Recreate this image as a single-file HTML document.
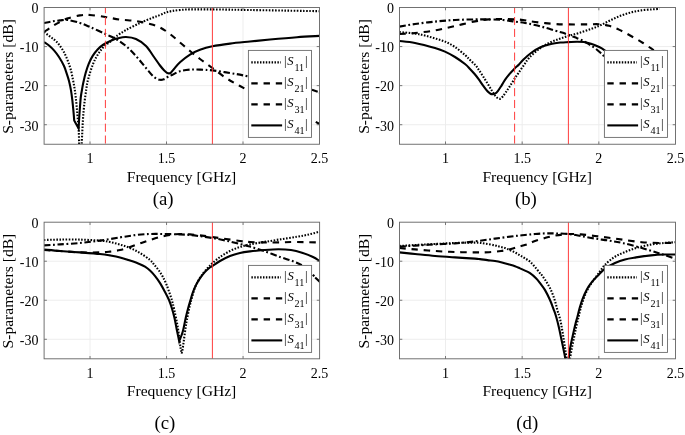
<!DOCTYPE html>
<html><head><meta charset="utf-8"><title>S-parameters</title>
<style>
html,body{margin:0;padding:0;background:#fff}
svg{display:block;will-change:transform}
text{font-family:"Liberation Serif","Times New Roman",serif;fill:#000}
</style></head><body>
<svg width="685" height="435" viewBox="0 0 685 435">
<rect width="685" height="435" fill="#fff"/>
<g id="plot-a">
<clipPath id="clip-a"><rect x="44.10" y="7.50" width="275.40" height="136.75"/></clipPath>
<path d="M90.00,7.50 V144.25 M166.50,7.50 V144.25 M243.00,7.50 V144.25 M44.10,46.57 H319.50 M44.10,85.64 H319.50 M44.10,124.71 H319.50" stroke="#ebebeb" stroke-width="0.9" fill="none"/>
<g clip-path="url(#clip-a)" fill="none" stroke="#000" stroke-width="2.1" stroke-linejoin="miter">
<path d="M44.00,32.00 C45.33,31.08 49.33,28.17 52.00,26.50 C54.67,24.83 57.33,23.37 60.00,22.00 C62.67,20.63 64.67,19.40 68.00,18.30 C71.33,17.20 76.33,15.95 80.00,15.40 C83.67,14.85 85.77,14.73 90.00,15.00 C94.23,15.27 100.40,16.23 105.40,17.00 C110.40,17.77 114.90,18.93 120.00,19.60 C125.10,20.27 131.00,20.27 136.00,21.00 C141.00,21.73 146.00,22.92 150.00,24.00 C154.00,25.08 156.67,25.83 160.00,27.50 C163.33,29.17 166.67,31.50 170.00,34.00 C173.33,36.50 176.67,39.67 180.00,42.50 C183.33,45.33 186.67,48.25 190.00,51.00 C193.33,53.75 196.27,56.17 200.00,59.00 C203.73,61.83 208.07,64.83 212.40,68.00 C216.73,71.17 221.40,75.00 226.00,78.00 C230.60,81.00 234.33,82.83 240.00,86.00 C245.67,89.17 253.33,93.50 260.00,97.00 C266.67,100.50 273.33,103.83 280.00,107.00 C286.67,110.17 296.67,114.50 300.00,116.00" stroke-dasharray="6.4 5.8"/>
<path d="M44.00,23.00 C45.33,22.73 49.33,21.83 52.00,21.40 C54.67,20.97 57.33,20.63 60.00,20.40 C62.67,20.17 64.67,19.57 68.00,20.00 C71.33,20.43 76.33,21.83 80.00,23.00 C83.67,24.17 85.77,25.17 90.00,27.00 C94.23,28.83 101.07,32.00 105.40,34.00 C109.73,36.00 112.57,37.00 116.00,39.00 C119.43,41.00 122.67,43.17 126.00,46.00 C129.33,48.83 132.67,52.33 136.00,56.00 C139.33,59.67 143.00,64.50 146.00,68.00 C149.00,71.50 151.67,75.03 154.00,77.00 C156.33,78.97 158.33,79.43 160.00,79.80 C161.67,80.17 162.67,79.70 164.00,79.20 C165.33,78.70 166.67,77.50 168.00,76.80 C169.33,76.10 170.00,75.93 172.00,75.00 C174.00,74.07 177.00,72.10 180.00,71.20 C183.00,70.30 186.67,69.87 190.00,69.60 C193.33,69.33 196.27,69.47 200.00,69.60 C203.73,69.73 207.40,69.83 212.40,70.40 C217.40,70.97 224.07,72.00 230.00,73.00 C235.93,74.00 239.67,74.57 248.00,76.40 C256.33,78.23 271.33,81.98 280.00,84.00 C288.67,86.02 296.67,87.75 300.00,88.50" stroke-dasharray="6.5 2.6 1.8 2.6"/>
<path d="M44.00,32.00 C44.67,32.50 46.67,34.00 48.00,35.00 C49.33,36.00 50.83,37.13 52.00,38.00 C53.17,38.87 53.83,39.12 55.00,40.20 C56.17,41.28 57.52,42.53 59.00,44.50 C60.48,46.47 62.43,49.27 63.90,52.00 C65.37,54.73 66.65,57.93 67.80,60.90 C68.95,63.87 69.92,66.53 70.80,69.80 C71.68,73.07 72.43,77.15 73.10,80.50 C73.77,83.85 74.32,86.67 74.80,89.90 C75.28,93.13 75.63,96.55 76.00,99.90 C76.37,103.25 76.68,106.57 77.00,110.00 C77.32,113.43 77.60,116.85 77.90,120.50 C78.20,124.15 78.60,128.12 78.80,131.90 C79.00,135.68 79.03,140.52 79.10,143.20 C79.17,145.88 79.18,147.20 79.20,148.00 L81.60,148.00 C81.62,147.20 81.58,145.88 81.70,143.20 C81.82,140.52 82.10,135.68 82.30,131.90 C82.50,128.12 82.67,124.15 82.90,120.50 C83.13,116.85 83.38,113.43 83.70,110.00 C84.02,106.57 84.38,103.25 84.80,99.90 C85.22,96.55 85.77,92.83 86.20,89.90 C86.63,86.97 86.82,84.98 87.40,82.30 C87.98,79.62 88.82,76.72 89.70,73.80 C90.58,70.88 91.72,67.37 92.70,64.80 C93.68,62.23 94.45,60.55 95.60,58.40 C96.75,56.25 98.10,53.97 99.60,51.90 C101.10,49.83 102.53,47.95 104.60,46.00 C106.67,44.05 110.10,41.78 112.00,40.20 C113.90,38.62 113.67,38.20 116.00,36.50 C118.33,34.80 122.00,32.25 126.00,30.00 C130.00,27.75 135.67,25.00 140.00,23.00 C144.33,21.00 148.67,19.33 152.00,18.00 C155.33,16.67 157.67,15.93 160.00,15.00 C162.33,14.07 164.00,13.07 166.00,12.40 C168.00,11.73 169.67,11.40 172.00,11.00 C174.33,10.60 177.00,10.27 180.00,10.00 C183.00,9.73 184.67,9.50 190.00,9.40 C195.33,9.30 202.00,9.30 212.00,9.40 C222.00,9.50 235.83,9.77 250.00,10.00 C264.17,10.23 285.40,10.60 297.00,10.80 C308.60,11.00 315.83,11.13 319.60,11.20" stroke-dasharray="1.55 1.55"/>
<path d="M44.00,42.00 C44.83,42.58 47.33,44.10 49.00,45.50 C50.67,46.90 52.33,48.48 54.00,50.40 C55.67,52.32 57.35,54.43 59.00,57.00 C60.65,59.57 62.60,63.00 63.90,65.80 C65.20,68.60 65.95,71.27 66.80,73.80 C67.65,76.33 68.32,78.32 69.00,81.00 C69.68,83.68 70.35,86.75 70.90,89.90 C71.45,93.05 71.85,96.08 72.30,99.90 C72.75,103.72 73.28,109.37 73.60,112.80 C73.92,116.23 74.10,119.22 74.20,120.50 L74.20,120.50 C74.93,121.82 77.87,127.08 78.60,128.40 L78.60,128.40 C78.70,126.67 78.98,121.40 79.20,118.00 C79.42,114.60 79.63,111.50 79.90,108.00 C80.17,104.50 80.40,100.33 80.80,97.00 C81.20,93.67 81.87,90.45 82.30,88.00 C82.73,85.55 82.83,84.83 83.40,82.30 C83.97,79.77 84.82,75.88 85.70,72.80 C86.58,69.72 87.53,66.62 88.70,63.80 C89.87,60.98 91.22,58.30 92.70,55.90 C94.18,53.50 95.78,51.30 97.60,49.40 C99.42,47.50 101.20,46.03 103.60,44.50 C106.00,42.97 109.60,41.25 112.00,40.20 C114.40,39.15 115.67,38.73 118.00,38.20 C120.33,37.67 123.00,36.87 126.00,37.00 C129.00,37.13 132.67,37.50 136.00,39.00 C139.33,40.50 143.00,43.00 146.00,46.00 C149.00,49.00 151.67,53.75 154.00,57.00 C156.33,60.25 158.33,63.30 160.00,65.50 C161.67,67.70 162.83,68.98 164.00,70.20 C165.17,71.42 166.17,72.27 167.00,72.80 C167.83,73.33 168.33,73.43 169.00,73.40 C169.67,73.37 170.17,73.33 171.00,72.60 C171.83,71.87 172.50,70.72 174.00,69.00 C175.50,67.28 177.33,64.70 180.00,62.30 C182.67,59.90 186.67,56.68 190.00,54.60 C193.33,52.52 196.27,51.18 200.00,49.80 C203.73,48.42 207.40,47.33 212.40,46.30 C217.40,45.27 223.73,44.40 230.00,43.60 C236.27,42.80 243.33,42.18 250.00,41.50 C256.67,40.82 262.17,40.22 270.00,39.50 C277.83,38.78 288.73,37.80 297.00,37.20 C305.27,36.60 315.83,36.12 319.60,35.90" />
<path d="M315.8,121.8 L320.6,124.7"/>
<path d="M312,89.7 L317.7,91.7"/>
<path d="M319.0,92.25 L320.8,92.9"/>
<path d="M105.40,5.15 V144.25" stroke="#f33" stroke-width="0.95" stroke-dasharray="8.1 3.75"/>
<path d="M212.40,7.50 V144.25" stroke="#f33" stroke-width="0.95"/>
</g>
<rect x="248.40" y="50.40" width="63.10" height="87.00" fill="#fff" stroke="#6a6a6a" stroke-width="0.9"/>
<path d="M90.00,144.25 v-2.8 M90.00,7.50 v2.8 M166.50,144.25 v-2.8 M166.50,7.50 v2.8 M243.00,144.25 v-2.8 M243.00,7.50 v2.8 M44.10,46.57 h2.8 M319.50,46.57 h-2.8 M44.10,85.64 h2.8 M319.50,85.64 h-2.8 M44.10,124.71 h2.8 M319.50,124.71 h-2.8" stroke="#6a6a6a" stroke-width="0.9" fill="none"/>
<rect x="44.10" y="7.50" width="275.40" height="136.75" fill="none" stroke="#6a6a6a" stroke-width="0.95"/>
<path d="M251.30,62.40 H280.90" stroke="#000" stroke-width="2.1" stroke-dasharray="1.45 1.45"/>
<text x="284.00" y="65.40" font-size="12.6">|<tspan x="287.30" font-style="italic">S</tspan><tspan x="294.40" dy="5.5" font-size="10.1">11</tspan><tspan x="305.00" dy="-5.5" font-size="12.6">|</tspan></text>
<path d="M251.30,83.40 H282.10" stroke="#000" stroke-width="2.1" stroke-dasharray="6.4 5.85"/>
<text x="284.00" y="86.40" font-size="12.6">|<tspan x="287.30" font-style="italic">S</tspan><tspan x="294.40" dy="5.5" font-size="10.1">21</tspan><tspan x="305.00" dy="-5.5" font-size="12.6">|</tspan></text>
<path d="M251.30,104.40 H282.10" stroke="#000" stroke-width="2.1" stroke-dasharray="6.4 5.85"/>
<text x="284.00" y="107.40" font-size="12.6">|<tspan x="287.30" font-style="italic">S</tspan><tspan x="294.40" dy="5.5" font-size="10.1">31</tspan><tspan x="305.00" dy="-5.5" font-size="12.6">|</tspan></text>
<path d="M251.30,125.40 H282.10" stroke="#000" stroke-width="2.1"/>
<text x="284.00" y="128.40" font-size="12.6">|<tspan x="287.30" font-style="italic">S</tspan><tspan x="294.40" dy="5.5" font-size="10.1">41</tspan><tspan x="305.00" dy="-5.5" font-size="12.6">|</tspan></text>
<text x="90.00" y="163.05" font-size="14" text-anchor="middle">1</text>
<text x="166.50" y="163.05" font-size="14" text-anchor="middle">1.5</text>
<text x="243.00" y="163.05" font-size="14" text-anchor="middle">2</text>
<text x="319.50" y="163.05" font-size="14" text-anchor="middle">2.5</text>
<text x="38.50" y="13.30" font-size="14" text-anchor="end">0</text>
<text x="38.50" y="52.37" font-size="14" text-anchor="end">-10</text>
<text x="38.50" y="91.44" font-size="14" text-anchor="end">-20</text>
<text x="38.50" y="130.51" font-size="14" text-anchor="end">-30</text>
<text x="181.50" y="181.55" font-size="15.6" text-anchor="middle">Frequency [GHz]</text>
<text transform="translate(13.20,76.47) rotate(-90)" font-size="15.6" text-anchor="middle">S-parameters [dB]</text>
<text x="163.10" y="205.40" font-size="18.8" text-anchor="middle">(a)</text>
</g>
<g id="plot-b">
<clipPath id="clip-b"><rect x="399.50" y="7.50" width="276.00" height="136.75"/></clipPath>
<path d="M445.50,7.50 V144.25 M522.17,7.50 V144.25 M598.83,7.50 V144.25 M399.50,46.57 H675.50 M399.50,85.64 H675.50 M399.50,124.71 H675.50" stroke="#ebebeb" stroke-width="0.9" fill="none"/>
<g clip-path="url(#clip-b)" fill="none" stroke="#000" stroke-width="2.1" stroke-linejoin="miter">
<path d="M399.40,34.00 C402.00,33.83 409.07,33.60 415.00,33.00 C420.93,32.40 428.33,31.57 435.00,30.40 C441.67,29.23 448.33,27.50 455.00,26.00 C461.67,24.50 469.33,22.50 475.00,21.40 C480.67,20.30 484.33,19.80 489.00,19.40 C493.67,19.00 498.67,19.00 503.00,19.00 C507.33,19.00 511.67,19.23 515.00,19.40 C518.33,19.57 519.67,19.57 523.00,20.00 C526.33,20.43 529.67,21.33 535.00,22.00 C540.33,22.67 549.43,23.60 555.00,24.00 C560.57,24.40 563.40,24.33 568.40,24.40 C573.40,24.47 579.90,24.43 585.00,24.40 C590.10,24.37 595.00,23.97 599.00,24.20 C603.00,24.43 605.67,24.90 609.00,25.80 C612.33,26.70 615.33,27.90 619.00,29.60 C622.67,31.30 627.00,33.77 631.00,36.00 C635.00,38.23 639.50,40.83 643.00,43.00 C646.50,45.17 649.25,47.08 652.00,49.00 C654.75,50.92 658.25,53.58 659.50,54.50" stroke-dasharray="6.4 5.8"/>
<path d="M399.40,26.60 C402.00,26.17 409.07,24.83 415.00,24.00 C420.93,23.17 428.33,22.27 435.00,21.60 C441.67,20.93 448.33,20.37 455.00,20.00 C461.67,19.63 469.33,19.50 475.00,19.40 C480.67,19.30 484.33,19.30 489.00,19.40 C493.67,19.50 498.67,19.63 503.00,20.00 C507.33,20.37 511.33,21.10 515.00,21.60 C518.67,22.10 521.67,22.43 525.00,23.00 C528.33,23.57 531.67,24.23 535.00,25.00 C538.33,25.77 541.67,26.67 545.00,27.60 C548.33,28.53 552.17,29.77 555.00,30.60 C557.83,31.43 559.77,31.90 562.00,32.60 C564.23,33.30 566.57,34.13 568.40,34.80 C570.23,35.47 571.57,36.03 573.00,36.60 C574.43,37.17 575.50,37.58 577.00,38.20 C578.50,38.82 580.50,39.58 582.00,40.30 C583.50,41.02 584.62,41.70 586.00,42.50 C587.38,43.30 588.65,44.03 590.30,45.10 C591.95,46.17 594.15,47.57 595.90,48.90 C597.65,50.23 599.40,51.82 600.80,53.10 C602.20,54.38 601.10,53.45 604.30,56.60 C607.50,59.75 614.05,65.60 620.00,72.00 C625.95,78.40 633.42,87.00 640.00,95.00 C646.58,103.00 656.25,115.83 659.50,120.00" stroke-dasharray="6.5 2.6 1.8 2.6"/>
<path d="M399.40,32.00 C402.00,32.27 410.73,33.00 415.00,33.60 C419.27,34.20 421.67,34.80 425.00,35.60 C428.33,36.40 431.67,37.40 435.00,38.40 C438.33,39.40 441.67,40.17 445.00,41.60 C448.33,43.03 451.67,44.77 455.00,47.00 C458.33,49.23 462.50,52.83 465.00,55.00 C467.50,57.17 468.28,58.33 470.00,60.00 C471.72,61.67 473.83,63.37 475.30,65.00 C476.77,66.63 477.50,67.90 478.80,69.80 C480.10,71.70 481.65,74.13 483.10,76.40 C484.55,78.67 486.03,81.00 487.50,83.40 C488.97,85.80 490.58,88.68 491.90,90.80 C493.22,92.92 494.38,94.85 495.40,96.10 C496.42,97.35 497.20,97.87 498.00,98.30 C498.80,98.73 499.40,99.00 500.20,98.70 C501.00,98.40 501.85,97.60 502.80,96.50 C503.75,95.40 504.80,93.70 505.90,92.10 C507.00,90.50 508.08,88.93 509.40,86.90 C510.72,84.87 512.33,82.17 513.80,79.90 C515.27,77.63 516.60,75.63 518.20,73.30 C519.80,70.97 521.60,68.45 523.40,65.90 C525.20,63.35 526.40,60.82 529.00,58.00 C531.60,55.18 535.67,51.50 539.00,49.00 C542.33,46.50 545.67,44.67 549.00,43.00 C552.33,41.33 555.77,40.17 559.00,39.00 C562.23,37.83 565.07,37.00 568.40,36.00 C571.73,35.00 575.23,34.17 579.00,33.00 C582.77,31.83 587.33,30.33 591.00,29.00 C594.67,27.67 597.67,26.50 601.00,25.00 C604.33,23.50 607.67,21.57 611.00,20.00 C614.33,18.43 617.67,16.87 621.00,15.60 C624.33,14.33 627.67,13.27 631.00,12.40 C634.33,11.53 637.50,10.90 641.00,10.40 C644.50,9.90 648.92,9.63 652.00,9.40 C655.08,9.17 658.25,9.07 659.50,9.00" stroke-dasharray="1.55 1.55"/>
<path d="M399.40,41.00 C402.00,41.33 409.07,41.83 415.00,43.00 C420.93,44.17 430.00,46.57 435.00,48.00 C440.00,49.43 441.67,50.10 445.00,51.60 C448.33,53.10 451.67,54.93 455.00,57.00 C458.33,59.07 462.50,62.02 465.00,64.00 C467.50,65.98 468.43,67.27 470.00,68.90 C471.57,70.53 472.93,72.05 474.40,73.80 C475.87,75.55 477.35,77.43 478.80,79.40 C480.25,81.37 481.65,83.62 483.10,85.60 C484.55,87.58 486.33,89.98 487.50,91.30 C488.67,92.62 489.30,93.00 490.10,93.50 C490.90,94.00 491.48,94.27 492.30,94.30 C493.12,94.33 494.05,94.28 495.00,93.70 C495.95,93.12 496.92,92.15 498.00,90.80 C499.08,89.45 500.33,87.42 501.50,85.60 C502.67,83.78 503.68,81.80 505.00,79.90 C506.32,78.00 507.87,76.03 509.40,74.20 C510.93,72.37 512.60,70.52 514.20,68.90 C515.80,67.28 517.53,65.98 519.00,64.50 C520.47,63.02 521.00,61.92 523.00,60.00 C525.00,58.08 528.00,55.17 531.00,53.00 C534.00,50.83 537.67,48.52 541.00,47.00 C544.33,45.48 547.67,44.65 551.00,43.90 C554.33,43.15 558.10,42.80 561.00,42.50 C563.90,42.20 565.73,42.23 568.40,42.10 C571.07,41.97 574.40,41.71 577.00,41.70 C579.60,41.69 581.67,41.72 584.00,42.05 C586.33,42.38 588.67,42.96 591.00,43.70 C593.33,44.44 595.72,45.40 598.00,46.50 C600.28,47.60 601.03,47.72 604.70,50.30 C608.37,52.88 614.12,56.22 620.00,62.00 C625.88,67.78 633.42,77.00 640.00,85.00 C646.58,93.00 656.25,105.83 659.50,110.00" />
<path d="M514.60,5.15 V144.25" stroke="#f33" stroke-width="0.95" stroke-dasharray="8.1 3.75"/>
<path d="M568.40,7.50 V144.25" stroke="#f33" stroke-width="0.95"/>
</g>
<rect x="604.40" y="50.40" width="63.10" height="87.00" fill="#fff" stroke="#6a6a6a" stroke-width="0.9"/>
<path d="M445.50,144.25 v-2.8 M445.50,7.50 v2.8 M522.17,144.25 v-2.8 M522.17,7.50 v2.8 M598.83,144.25 v-2.8 M598.83,7.50 v2.8 M399.50,46.57 h2.8 M675.50,46.57 h-2.8 M399.50,85.64 h2.8 M675.50,85.64 h-2.8 M399.50,124.71 h2.8 M675.50,124.71 h-2.8" stroke="#6a6a6a" stroke-width="0.9" fill="none"/>
<rect x="399.50" y="7.50" width="276.00" height="136.75" fill="none" stroke="#6a6a6a" stroke-width="0.95"/>
<path d="M607.30,62.40 H636.90" stroke="#000" stroke-width="2.1" stroke-dasharray="1.45 1.45"/>
<text x="640.00" y="65.40" font-size="12.6">|<tspan x="643.30" font-style="italic">S</tspan><tspan x="650.40" dy="5.5" font-size="10.1">11</tspan><tspan x="661.00" dy="-5.5" font-size="12.6">|</tspan></text>
<path d="M607.30,83.40 H638.10" stroke="#000" stroke-width="2.1" stroke-dasharray="6.4 5.85"/>
<text x="640.00" y="86.40" font-size="12.6">|<tspan x="643.30" font-style="italic">S</tspan><tspan x="650.40" dy="5.5" font-size="10.1">21</tspan><tspan x="661.00" dy="-5.5" font-size="12.6">|</tspan></text>
<path d="M607.30,104.40 H638.10" stroke="#000" stroke-width="2.1" stroke-dasharray="6.4 5.85"/>
<text x="640.00" y="107.40" font-size="12.6">|<tspan x="643.30" font-style="italic">S</tspan><tspan x="650.40" dy="5.5" font-size="10.1">31</tspan><tspan x="661.00" dy="-5.5" font-size="12.6">|</tspan></text>
<path d="M607.30,125.40 H638.10" stroke="#000" stroke-width="2.1"/>
<text x="640.00" y="128.40" font-size="12.6">|<tspan x="643.30" font-style="italic">S</tspan><tspan x="650.40" dy="5.5" font-size="10.1">41</tspan><tspan x="661.00" dy="-5.5" font-size="12.6">|</tspan></text>
<text x="445.50" y="163.05" font-size="14" text-anchor="middle">1</text>
<text x="522.17" y="163.05" font-size="14" text-anchor="middle">1.5</text>
<text x="598.83" y="163.05" font-size="14" text-anchor="middle">2</text>
<text x="675.50" y="163.05" font-size="14" text-anchor="middle">2.5</text>
<text x="393.90" y="13.30" font-size="14" text-anchor="end">0</text>
<text x="393.90" y="52.37" font-size="14" text-anchor="end">-10</text>
<text x="393.90" y="91.44" font-size="14" text-anchor="end">-20</text>
<text x="393.90" y="130.51" font-size="14" text-anchor="end">-30</text>
<text x="537.20" y="181.55" font-size="15.6" text-anchor="middle">Frequency [GHz]</text>
<text transform="translate(368.60,76.47) rotate(-90)" font-size="15.6" text-anchor="middle">S-parameters [dB]</text>
<text x="525.90" y="205.40" font-size="18.8" text-anchor="middle">(b)</text>
</g>
<g id="plot-c">
<clipPath id="clip-c"><rect x="44.10" y="222.20" width="275.50" height="136.60"/></clipPath>
<path d="M90.02,222.20 V358.80 M166.54,222.20 V358.80 M243.07,222.20 V358.80 M44.10,261.23 H319.60 M44.10,300.26 H319.60 M44.10,339.29 H319.60" stroke="#ebebeb" stroke-width="0.9" fill="none"/>
<g clip-path="url(#clip-c)" fill="none" stroke="#000" stroke-width="2.1" stroke-linejoin="miter">
<path d="M44.00,250.00 C46.67,250.17 54.00,250.60 60.00,251.00 C66.00,251.40 73.33,252.17 80.00,252.40 C86.67,252.63 95.00,252.53 100.00,252.40 C105.00,252.27 106.67,252.00 110.00,251.60 C113.33,251.20 116.67,250.77 120.00,250.00 C123.33,249.23 126.67,248.10 130.00,247.00 C133.33,245.90 136.67,244.57 140.00,243.40 C143.33,242.23 146.67,241.07 150.00,240.00 C153.33,238.93 156.67,237.83 160.00,237.00 C163.33,236.17 166.67,235.50 170.00,235.00 C173.33,234.50 176.67,234.10 180.00,234.00 C183.33,233.90 186.67,234.17 190.00,234.40 C193.33,234.63 196.27,234.97 200.00,235.40 C203.73,235.83 208.07,236.40 212.40,237.00 C216.73,237.60 221.40,238.33 226.00,239.00 C230.60,239.67 236.00,240.50 240.00,241.00 C244.00,241.50 246.00,241.77 250.00,242.00 C254.00,242.23 259.00,242.33 264.00,242.40 C269.00,242.47 274.50,242.47 280.00,242.40 C285.50,242.33 290.40,241.98 297.00,242.00 C303.60,242.02 315.83,242.42 319.60,242.50" stroke-dasharray="6.4 5.8"/>
<path d="M44.00,245.40 C46.67,245.23 54.00,244.80 60.00,244.40 C66.00,244.00 73.33,243.63 80.00,243.00 C86.67,242.37 93.33,241.53 100.00,240.60 C106.67,239.67 114.00,238.33 120.00,237.40 C126.00,236.47 131.00,235.57 136.00,235.00 C141.00,234.43 145.33,234.17 150.00,234.00 C154.67,233.83 159.00,233.93 164.00,234.00 C169.00,234.07 175.67,234.23 180.00,234.40 C184.33,234.57 186.67,234.70 190.00,235.00 C193.33,235.30 196.27,235.70 200.00,236.20 C203.73,236.70 208.07,237.27 212.40,238.00 C216.73,238.73 221.40,239.60 226.00,240.60 C230.60,241.60 236.00,243.00 240.00,244.00 C244.00,245.00 246.00,245.43 250.00,246.60 C254.00,247.77 259.00,249.27 264.00,251.00 C269.00,252.73 275.17,255.30 280.00,257.00 C284.83,258.70 289.35,259.83 293.00,261.20 C296.65,262.57 299.73,264.07 301.90,265.20 C304.07,266.33 305.32,267.53 306.00,268.00" stroke-dasharray="6.5 2.6 1.8 2.6"/>
<path d="M44.00,240.00 C46.67,239.93 54.00,239.67 60.00,239.60 C66.00,239.53 73.33,239.43 80.00,239.60 C86.67,239.77 95.00,240.20 100.00,240.60 C105.00,241.00 106.67,241.33 110.00,242.00 C113.33,242.67 116.67,243.60 120.00,244.60 C123.33,245.60 126.67,246.60 130.00,248.00 C133.33,249.40 136.67,251.00 140.00,253.00 C143.33,255.00 147.60,258.00 150.00,260.00 C152.40,262.00 152.92,263.25 154.40,265.00 C155.88,266.75 157.48,268.52 158.90,270.50 C160.32,272.48 161.65,274.58 162.90,276.90 C164.15,279.22 165.25,281.58 166.40,284.40 C167.55,287.22 168.82,290.92 169.80,293.80 C170.78,296.68 171.55,299.00 172.30,301.70 C173.05,304.40 173.58,306.78 174.30,310.00 C175.02,313.22 175.95,317.67 176.60,321.00 C177.25,324.33 177.70,326.70 178.20,330.00 C178.70,333.30 179.18,337.70 179.60,340.80 C180.02,343.90 180.33,346.50 180.70,348.60 C181.07,350.70 181.62,352.60 181.80,353.40 L181.80,353.40 C181.95,352.60 182.37,350.70 182.70,348.60 C183.03,346.50 183.37,343.95 183.80,340.80 C184.23,337.65 184.78,333.18 185.30,329.70 C185.82,326.22 186.17,323.85 186.90,319.90 C187.63,315.95 188.85,309.73 189.70,306.00 C190.55,302.27 191.12,300.58 192.00,297.50 C192.88,294.42 193.83,290.50 195.00,287.50 C196.17,284.50 197.50,282.05 199.00,279.50 C200.50,276.95 202.33,274.37 204.00,272.20 C205.67,270.03 207.60,268.00 209.00,266.50 C210.40,265.00 210.57,264.78 212.40,263.20 C214.23,261.62 217.07,259.03 220.00,257.00 C222.93,254.97 226.67,252.67 230.00,251.00 C233.33,249.33 236.67,248.10 240.00,247.00 C243.33,245.90 246.00,245.23 250.00,244.40 C254.00,243.57 259.00,242.83 264.00,242.00 C269.00,241.17 274.50,240.27 280.00,239.40 C285.50,238.53 292.07,237.65 297.00,236.80 C301.93,235.95 305.83,235.17 309.60,234.30 C313.37,233.43 317.93,232.05 319.60,231.60" stroke-dasharray="1.55 1.55"/>
<path d="M44.00,249.60 C46.67,249.83 54.00,250.53 60.00,251.00 C66.00,251.47 73.33,251.90 80.00,252.40 C86.67,252.90 95.00,253.50 100.00,254.00 C105.00,254.50 106.67,254.83 110.00,255.40 C113.33,255.97 116.67,256.53 120.00,257.40 C123.33,258.27 126.67,259.47 130.00,260.60 C133.33,261.73 137.50,263.18 140.00,264.20 C142.50,265.22 143.33,265.65 145.00,266.70 C146.67,267.75 148.35,268.97 150.00,270.50 C151.65,272.03 153.25,273.83 154.90,275.90 C156.55,277.97 158.23,280.25 159.90,282.90 C161.57,285.55 163.38,288.95 164.90,291.80 C166.42,294.65 167.85,297.30 169.00,300.00 C170.15,302.70 170.88,305.00 171.80,308.00 C172.72,311.00 173.67,314.37 174.50,318.00 C175.33,321.63 176.02,325.93 176.80,329.80 C177.58,333.67 178.80,339.30 179.20,341.20 L179.20,341.20 C179.80,339.58 181.72,335.38 182.80,331.50 C183.88,327.62 184.80,321.82 185.70,317.90 C186.60,313.98 187.40,310.98 188.20,308.00 C189.00,305.02 189.75,302.53 190.50,300.00 C191.25,297.47 191.85,295.15 192.70,292.80 C193.55,290.45 194.45,288.22 195.60,285.90 C196.75,283.58 198.10,281.15 199.60,278.90 C201.10,276.65 202.95,274.25 204.60,272.40 C206.25,270.55 208.20,268.87 209.50,267.80 C210.80,266.73 210.65,267.13 212.40,266.00 C214.15,264.87 217.07,262.67 220.00,261.00 C222.93,259.33 226.67,257.33 230.00,256.00 C233.33,254.67 236.67,253.77 240.00,253.00 C243.33,252.23 246.00,251.90 250.00,251.40 C254.00,250.90 259.27,250.37 264.00,250.00 C268.73,249.63 273.90,249.20 278.40,249.20 C282.90,249.20 287.07,249.42 291.00,250.00 C294.93,250.58 298.33,251.53 302.00,252.70 C305.67,253.87 310.07,255.62 313.00,257.00 C315.93,258.38 318.50,260.33 319.60,261.00" />
<path d="M312.8,274.7 L314.3,276.3"/>
<path d="M315.2,277.4 L320.5,282.4"/>
<path d="M212.40,222.20 V358.80" stroke="#f33" stroke-width="0.95"/>
</g>
<rect x="248.50" y="265.40" width="63.10" height="87.00" fill="#fff" stroke="#6a6a6a" stroke-width="0.9"/>
<path d="M90.02,358.80 v-2.8 M90.02,222.20 v2.8 M166.54,358.80 v-2.8 M166.54,222.20 v2.8 M243.07,358.80 v-2.8 M243.07,222.20 v2.8 M44.10,261.23 h2.8 M319.60,261.23 h-2.8 M44.10,300.26 h2.8 M319.60,300.26 h-2.8 M44.10,339.29 h2.8 M319.60,339.29 h-2.8" stroke="#6a6a6a" stroke-width="0.9" fill="none"/>
<rect x="44.10" y="222.20" width="275.50" height="136.60" fill="none" stroke="#6a6a6a" stroke-width="0.95"/>
<path d="M251.40,277.40 H281.00" stroke="#000" stroke-width="2.1" stroke-dasharray="1.45 1.45"/>
<text x="284.10" y="280.40" font-size="12.6">|<tspan x="287.40" font-style="italic">S</tspan><tspan x="294.50" dy="5.5" font-size="10.1">11</tspan><tspan x="305.10" dy="-5.5" font-size="12.6">|</tspan></text>
<path d="M251.40,298.40 H282.20" stroke="#000" stroke-width="2.1" stroke-dasharray="6.4 5.85"/>
<text x="284.10" y="301.40" font-size="12.6">|<tspan x="287.40" font-style="italic">S</tspan><tspan x="294.50" dy="5.5" font-size="10.1">21</tspan><tspan x="305.10" dy="-5.5" font-size="12.6">|</tspan></text>
<path d="M251.40,319.40 H282.20" stroke="#000" stroke-width="2.1" stroke-dasharray="6.4 5.85"/>
<text x="284.10" y="322.40" font-size="12.6">|<tspan x="287.40" font-style="italic">S</tspan><tspan x="294.50" dy="5.5" font-size="10.1">31</tspan><tspan x="305.10" dy="-5.5" font-size="12.6">|</tspan></text>
<path d="M251.40,340.40 H282.20" stroke="#000" stroke-width="2.1"/>
<text x="284.10" y="343.40" font-size="12.6">|<tspan x="287.40" font-style="italic">S</tspan><tspan x="294.50" dy="5.5" font-size="10.1">41</tspan><tspan x="305.10" dy="-5.5" font-size="12.6">|</tspan></text>
<text x="90.02" y="377.60" font-size="14" text-anchor="middle">1</text>
<text x="166.54" y="377.60" font-size="14" text-anchor="middle">1.5</text>
<text x="243.07" y="377.60" font-size="14" text-anchor="middle">2</text>
<text x="319.60" y="377.60" font-size="14" text-anchor="middle">2.5</text>
<text x="38.50" y="228.00" font-size="14" text-anchor="end">0</text>
<text x="38.50" y="267.03" font-size="14" text-anchor="end">-10</text>
<text x="38.50" y="306.06" font-size="14" text-anchor="end">-20</text>
<text x="38.50" y="345.09" font-size="14" text-anchor="end">-30</text>
<text x="181.55" y="396.10" font-size="15.6" text-anchor="middle">Frequency [GHz]</text>
<text transform="translate(13.20,291.10) rotate(-90)" font-size="15.6" text-anchor="middle">S-parameters [dB]</text>
<text x="164.90" y="429.10" font-size="18.8" text-anchor="middle">(c)</text>
</g>
<g id="plot-d">
<clipPath id="clip-d"><rect x="399.50" y="222.20" width="276.00" height="136.60"/></clipPath>
<path d="M445.50,222.20 V358.80 M522.17,222.20 V358.80 M598.83,222.20 V358.80 M399.50,261.23 H675.50 M399.50,300.26 H675.50 M399.50,339.29 H675.50" stroke="#ebebeb" stroke-width="0.9" fill="none"/>
<g clip-path="url(#clip-d)" fill="none" stroke="#000" stroke-width="2.1" stroke-linejoin="miter">
<path d="M399.40,248.00 C402.00,248.23 409.07,248.90 415.00,249.40 C420.93,249.90 428.33,250.57 435.00,251.00 C441.67,251.43 448.33,251.77 455.00,252.00 C461.67,252.23 469.33,252.37 475.00,252.40 C480.67,252.43 484.67,252.43 489.00,252.20 C493.33,251.97 497.33,251.53 501.00,251.00 C504.67,250.47 508.00,249.73 511.00,249.00 C514.00,248.27 516.33,247.37 519.00,246.60 C521.67,245.83 524.33,245.33 527.00,244.40 C529.67,243.47 532.00,242.07 535.00,241.00 C538.00,239.93 541.67,238.90 545.00,238.00 C548.33,237.10 551.10,236.27 555.00,235.60 C558.90,234.93 564.07,234.20 568.40,234.00 C572.73,233.80 576.57,234.07 581.00,234.40 C585.43,234.73 590.33,235.43 595.00,236.00 C599.67,236.57 604.27,237.17 609.00,237.80 C613.73,238.43 617.93,239.07 623.40,239.80 C628.87,240.53 635.70,241.67 641.80,242.20 C647.90,242.73 654.33,242.90 660.00,243.00 C665.67,243.10 673.17,242.83 675.80,242.80" stroke-dasharray="6.4 5.8"/>
<path d="M399.40,246.60 C402.00,246.43 409.07,245.97 415.00,245.60 C420.93,245.23 428.33,244.77 435.00,244.40 C441.67,244.03 448.33,243.90 455.00,243.40 C461.67,242.90 468.33,242.20 475.00,241.40 C481.67,240.60 488.33,239.50 495.00,238.60 C501.67,237.70 510.00,236.60 515.00,236.00 C520.00,235.40 521.67,235.33 525.00,235.00 C528.33,234.67 531.67,234.27 535.00,234.00 C538.33,233.73 541.67,233.50 545.00,233.40 C548.33,233.30 551.10,233.30 555.00,233.40 C558.90,233.50 564.07,233.57 568.40,234.00 C572.73,234.43 576.57,235.23 581.00,236.00 C585.43,236.77 590.33,237.83 595.00,238.60 C599.67,239.37 604.27,239.83 609.00,240.60 C613.73,241.37 617.93,241.97 623.40,243.20 C628.87,244.43 635.70,246.27 641.80,248.00 C647.90,249.73 654.33,251.80 660.00,253.60 C665.67,255.40 673.17,257.93 675.80,258.80" stroke-dasharray="6.5 2.6 1.8 2.6"/>
<path d="M399.40,246.00 C402.00,245.83 409.07,245.33 415.00,245.00 C420.93,244.67 428.33,244.33 435.00,244.00 C441.67,243.67 448.33,243.23 455.00,243.00 C461.67,242.77 470.00,242.50 475.00,242.60 C480.00,242.70 481.67,243.13 485.00,243.60 C488.33,244.07 492.50,244.87 495.00,245.40 C497.50,245.93 498.33,246.35 500.00,246.80 C501.67,247.25 503.38,247.57 505.00,248.10 C506.62,248.63 508.05,249.28 509.70,250.00 C511.35,250.72 513.18,251.50 514.90,252.40 C516.62,253.30 518.35,254.43 520.00,255.40 C521.65,256.37 523.15,257.18 524.80,258.20 C526.45,259.22 528.23,260.07 529.90,261.50 C531.57,262.93 533.17,264.92 534.80,266.80 C536.43,268.68 538.52,271.40 539.70,272.80 C540.88,274.20 540.87,273.83 541.90,275.20 C542.93,276.57 544.57,278.88 545.90,281.00 C547.23,283.12 548.67,285.42 549.90,287.90 C551.13,290.38 552.32,293.25 553.30,295.90 C554.28,298.55 555.05,301.17 555.80,303.80 C556.55,306.43 557.20,309.58 557.80,311.70 C558.40,313.82 558.82,314.30 559.40,316.50 C559.98,318.70 560.65,321.52 561.30,324.90 C561.95,328.28 562.63,332.65 563.30,336.80 C563.97,340.95 564.72,345.77 565.30,349.80 C565.88,353.83 566.55,359.13 566.80,361.00 L569.60,361.00 C569.95,358.97 570.93,352.83 571.70,348.80 C572.47,344.77 573.42,340.60 574.20,336.80 C574.98,333.00 575.65,329.38 576.40,326.00 C577.15,322.62 578.02,319.33 578.70,316.50 C579.38,313.67 579.75,311.75 580.50,309.00 C581.25,306.25 582.15,303.00 583.20,300.00 C584.25,297.00 585.42,293.83 586.80,291.00 C588.18,288.17 589.80,285.58 591.50,283.00 C593.20,280.42 595.58,277.42 597.00,275.50 C598.42,273.58 598.67,273.28 600.00,271.50 C601.33,269.72 602.67,267.17 605.00,264.80 C607.33,262.43 610.93,259.32 614.00,257.30 C617.07,255.28 619.73,254.25 623.40,252.70 C627.07,251.15 631.40,249.35 636.00,248.00 C640.60,246.65 646.33,245.43 651.00,244.60 C655.67,243.77 659.87,243.40 664.00,243.00 C668.13,242.60 673.83,242.33 675.80,242.20" stroke-dasharray="1.55 1.55"/>
<path d="M399.40,252.40 C402.00,252.67 409.07,253.40 415.00,254.00 C420.93,254.60 428.33,255.43 435.00,256.00 C441.67,256.57 448.33,256.97 455.00,257.40 C461.67,257.83 470.83,258.32 475.00,258.60 C479.17,258.88 477.93,258.85 480.00,259.10 C482.07,259.35 484.90,259.78 487.40,260.10 C489.90,260.42 492.57,260.60 495.00,261.00 C497.43,261.40 499.58,261.90 502.00,262.50 C504.42,263.10 507.33,263.97 509.50,264.60 C511.67,265.23 513.25,265.67 515.00,266.30 C516.75,266.93 518.33,267.68 520.00,268.40 C521.67,269.12 523.33,269.80 525.00,270.60 C526.67,271.40 528.17,271.93 530.00,273.20 C531.83,274.47 534.35,276.58 536.00,278.20 C537.65,279.82 538.42,280.95 539.90,282.90 C541.38,284.85 543.23,287.08 544.90,289.90 C546.57,292.72 548.42,296.48 549.90,299.80 C551.38,303.12 552.77,307.02 553.80,309.80 C554.83,312.58 555.27,313.65 556.10,316.50 C556.93,319.35 557.93,323.18 558.80,326.90 C559.67,330.62 560.47,334.83 561.30,338.80 C562.13,342.77 563.05,347.00 563.80,350.70 C564.55,354.40 565.47,359.28 565.80,361.00 L568.30,361.00 C568.62,358.80 569.47,351.98 570.20,347.80 C570.93,343.62 571.87,339.72 572.70,335.90 C573.53,332.08 574.40,328.13 575.20,324.90 C576.00,321.67 576.75,319.35 577.50,316.50 C578.25,313.65 578.85,310.75 579.70,307.80 C580.55,304.85 581.45,301.78 582.60,298.80 C583.75,295.82 585.10,292.63 586.60,289.90 C588.10,287.17 589.70,284.80 591.60,282.40 C593.50,280.00 595.77,277.80 598.00,275.50 C600.23,273.20 602.17,270.68 605.00,268.60 C607.83,266.52 611.67,264.53 615.00,263.00 C618.33,261.47 621.50,260.33 625.00,259.40 C628.50,258.47 631.67,258.07 636.00,257.40 C640.33,256.73 646.33,255.88 651.00,255.40 C655.67,254.92 659.87,254.65 664.00,254.50 C668.13,254.35 673.83,254.50 675.80,254.50" />
<path d="M568.40,222.20 V358.80" stroke="#f33" stroke-width="0.95"/>
</g>
<rect x="604.40" y="265.40" width="63.10" height="87.00" fill="#fff" stroke="#6a6a6a" stroke-width="0.9"/>
<path d="M445.50,358.80 v-2.8 M445.50,222.20 v2.8 M522.17,358.80 v-2.8 M522.17,222.20 v2.8 M598.83,358.80 v-2.8 M598.83,222.20 v2.8 M399.50,261.23 h2.8 M675.50,261.23 h-2.8 M399.50,300.26 h2.8 M675.50,300.26 h-2.8 M399.50,339.29 h2.8 M675.50,339.29 h-2.8" stroke="#6a6a6a" stroke-width="0.9" fill="none"/>
<rect x="399.50" y="222.20" width="276.00" height="136.60" fill="none" stroke="#6a6a6a" stroke-width="0.95"/>
<path d="M607.30,277.40 H636.90" stroke="#000" stroke-width="2.1" stroke-dasharray="1.45 1.45"/>
<text x="640.00" y="280.40" font-size="12.6">|<tspan x="643.30" font-style="italic">S</tspan><tspan x="650.40" dy="5.5" font-size="10.1">11</tspan><tspan x="661.00" dy="-5.5" font-size="12.6">|</tspan></text>
<path d="M607.30,298.40 H638.10" stroke="#000" stroke-width="2.1" stroke-dasharray="6.4 5.85"/>
<text x="640.00" y="301.40" font-size="12.6">|<tspan x="643.30" font-style="italic">S</tspan><tspan x="650.40" dy="5.5" font-size="10.1">21</tspan><tspan x="661.00" dy="-5.5" font-size="12.6">|</tspan></text>
<path d="M607.30,319.40 H638.10" stroke="#000" stroke-width="2.1" stroke-dasharray="6.4 5.85"/>
<text x="640.00" y="322.40" font-size="12.6">|<tspan x="643.30" font-style="italic">S</tspan><tspan x="650.40" dy="5.5" font-size="10.1">31</tspan><tspan x="661.00" dy="-5.5" font-size="12.6">|</tspan></text>
<path d="M607.30,340.40 H638.10" stroke="#000" stroke-width="2.1"/>
<text x="640.00" y="343.40" font-size="12.6">|<tspan x="643.30" font-style="italic">S</tspan><tspan x="650.40" dy="5.5" font-size="10.1">41</tspan><tspan x="661.00" dy="-5.5" font-size="12.6">|</tspan></text>
<text x="445.50" y="377.60" font-size="14" text-anchor="middle">1</text>
<text x="522.17" y="377.60" font-size="14" text-anchor="middle">1.5</text>
<text x="598.83" y="377.60" font-size="14" text-anchor="middle">2</text>
<text x="675.50" y="377.60" font-size="14" text-anchor="middle">2.5</text>
<text x="393.90" y="228.00" font-size="14" text-anchor="end">0</text>
<text x="393.90" y="267.03" font-size="14" text-anchor="end">-10</text>
<text x="393.90" y="306.06" font-size="14" text-anchor="end">-20</text>
<text x="393.90" y="345.09" font-size="14" text-anchor="end">-30</text>
<text x="537.20" y="396.10" font-size="15.6" text-anchor="middle">Frequency [GHz]</text>
<text transform="translate(368.60,291.10) rotate(-90)" font-size="15.6" text-anchor="middle">S-parameters [dB]</text>
<text x="527.20" y="429.10" font-size="18.8" text-anchor="middle">(d)</text>
</g>
</svg>
</body></html>
